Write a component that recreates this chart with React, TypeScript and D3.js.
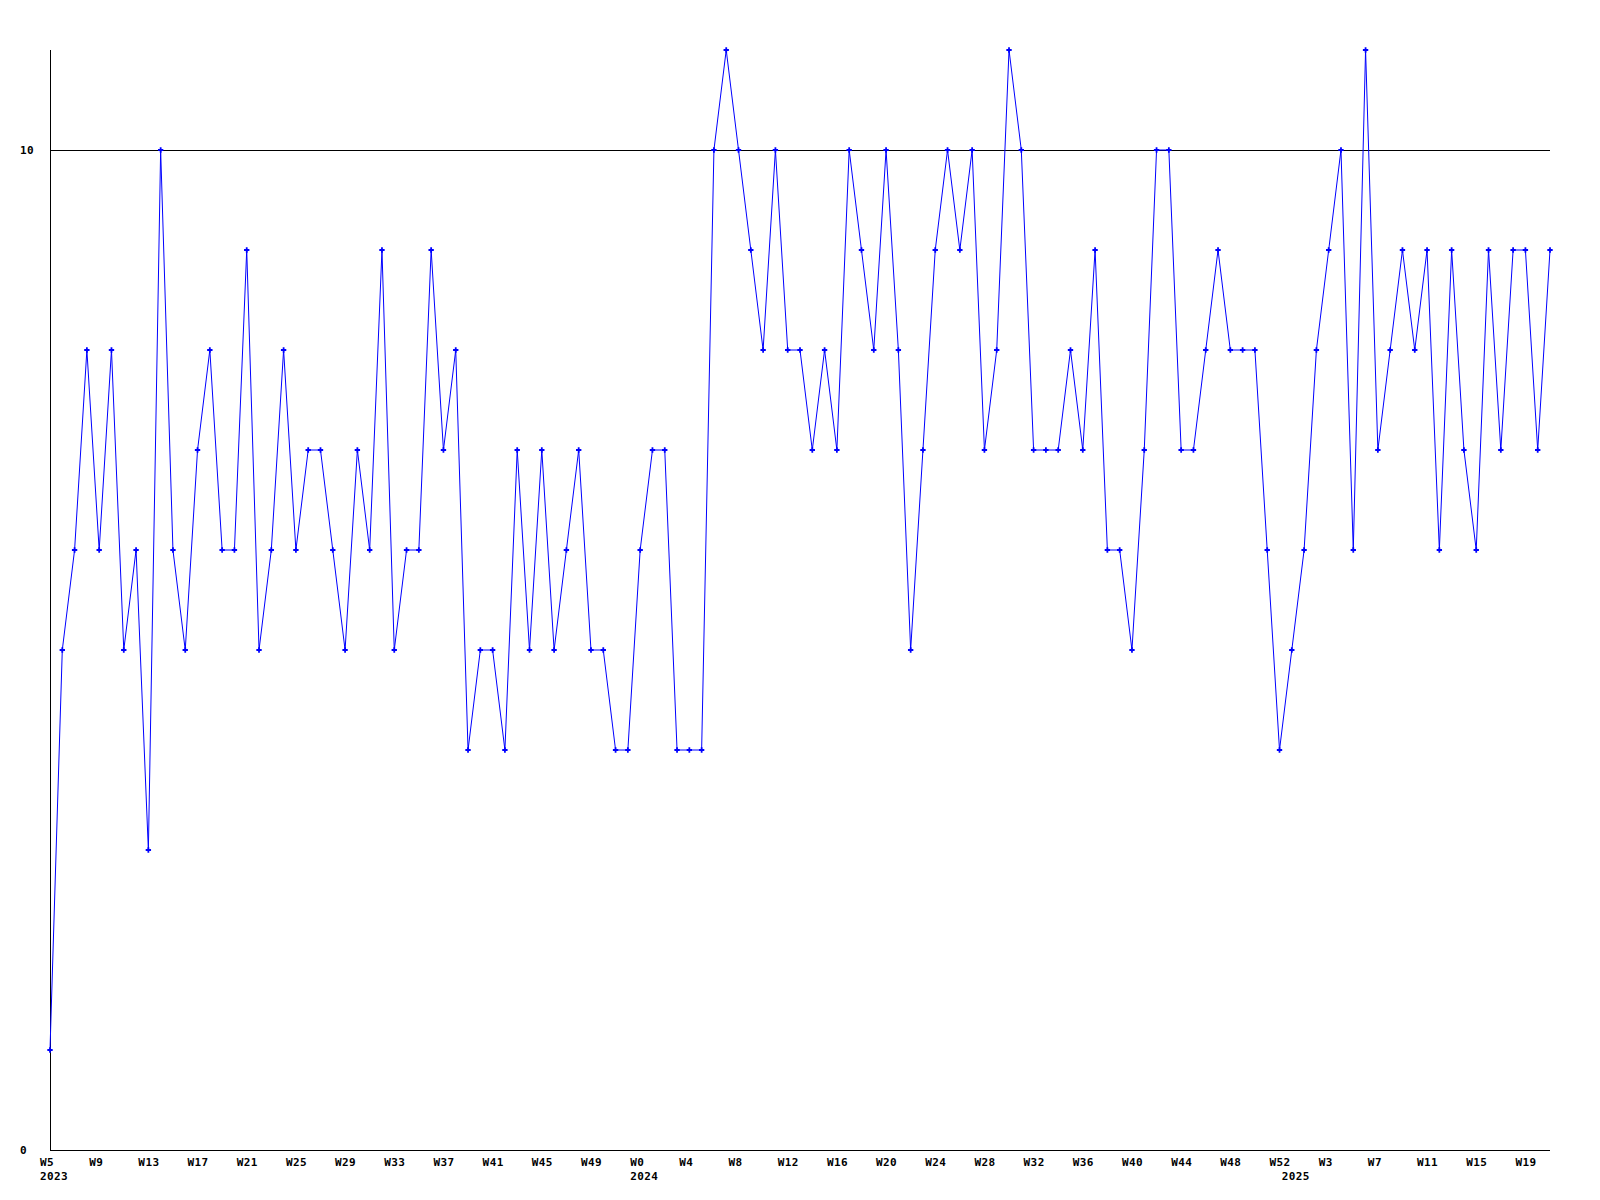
import React from "react";
import * as d3 from "d3";

// Weekly values, 2023 W5 .. 2025 W21 (one per week)
const values2023: number[] = [
  1, 5, 6, 8, 6, 8, 5, 6, 3, 10, 6, 5, 7, 8, 6, 6, 9, 5, 6, 8, 6, 7, 7, 6,
  5, 7, 6, 9, 5, 6, 6, 9, 7, 8, 4, 5, 5, 4, 7, 5, 7, 5, 6, 7, 5, 5, 4, 4,
];
const values2024: number[] = [
  6, 7, 7, 4, 4, 4, 10, 11, 10, 9, 8, 10, 8, 8, 7, 8, 7, 10, 9, 8, 10, 8, 5,
  7, 9, 10, 9, 10, 7, 8, 11, 10, 7, 7, 7, 8, 7, 9, 6, 6, 5, 7, 10, 10, 7, 7,
  8, 9, 8, 8, 8, 6, 4,
];
const values2025: number[] = [
  5, 6, 8, 9, 10, 6, 11, 7, 8, 9, 8, 9, 6, 9, 7, 6, 9, 7, 9, 9, 7, 9,
];
const allValues: number[] = [...values2023, ...values2024, ...values2025];

// Week tick labels (one every 4 weeks) and year labels with their week index
const weekTickLabels: string[] = [
  "W5", "W9", "W13", "W17", "W21", "W25", "W29", "W33", "W37", "W41", "W45", "W49",
  "W0", "W4", "W8", "W12", "W16", "W20", "W24", "W28", "W32", "W36", "W40", "W44", "W48", "W52",
  "W3", "W7", "W11", "W15", "W19",
];
const yearLabels: string[] = ["2023", "2024", "2025"];
const yearIndex: number[] = [0, values2023.length, values2023.length + values2024.length];

const yTickValues: number[] = [0, 10];
const yMax = 11;

const W = 1600;
const H = 1200;
const left = 50;
const right = 1550;
const top = 50;
const bottom = 1150;

export default function App() {
  const x = d3.scaleLinear().domain([0, allValues.length - 1]).range([left, right]);
  const y = d3.scaleLinear().domain([0, yMax]).range([bottom, top]);

  const line = d3
    .line<number>()
    .x((_, i) => x(i))
    .y((d) => y(d));

  const marker = d3.symbol(d3.symbolCross).size(16)() as string;
  const font = "'DejaVu Sans Mono', 'Liberation Mono', monospace";
  const textProps = {
    fontFamily: font,
    fontWeight: "bold" as const,
    fontSize: 11,
    letterSpacing: 0.4,
    fill: "#000",
  };

  return (
    <svg
      width={W}
      height={H}
      viewBox={`0 0 ${W} ${H}`}
      style={{ position: "absolute", left: 0, top: 0, background: "#fff", display: "block" }}
    >
      <rect x={0} y={0} width={W} height={H} fill="#fff" />
      {/* gridlines */}
      {yTickValues
        .filter((v) => v > 0)
        .map((v) => (
          <line
            key={"g" + v}
            x1={left}
            x2={right}
            y1={Math.round(y(v)) + 0.5}
            y2={Math.round(y(v)) + 0.5}
            stroke="#000"
            strokeWidth={1}
            shapeRendering="crispEdges"
          />
        ))}
      {/* axes */}
      <line x1={left + 0.5} x2={left + 0.5} y1={top} y2={bottom + 0.5} stroke="#000" shapeRendering="crispEdges" />
      <line x1={left} x2={right} y1={bottom + 0.5} y2={bottom + 0.5} stroke="#000" shapeRendering="crispEdges" />

      {/* y labels */}
      {yTickValues.map((v) => (
        <text key={"yl" + v} x={20} y={y(v) + 4} {...textProps}>
          {v}
        </text>
      ))}

      {/* x week labels */}
      {weekTickLabels.map((lab, j) => (
        <text key={"xl" + j} x={x(j * 4) - 10} y={1166} {...textProps}>
          {lab}
        </text>
      ))}
      {yearLabels.map((lab, k) => (
        <text key={"yr" + k} x={x(yearIndex[k]) - 10} y={1180} {...textProps}>
          {lab}
        </text>
      ))}

      {/* series */}
      <path d={line(allValues) as string} fill="none" stroke="#0000ff" strokeWidth={1} />
      {allValues.map((v, i) => (
        <path key={"m" + i} d={marker} transform={`translate(${x(i)},${y(v)})`} fill="#0000ff" />
      ))}
    </svg>
  );
}
